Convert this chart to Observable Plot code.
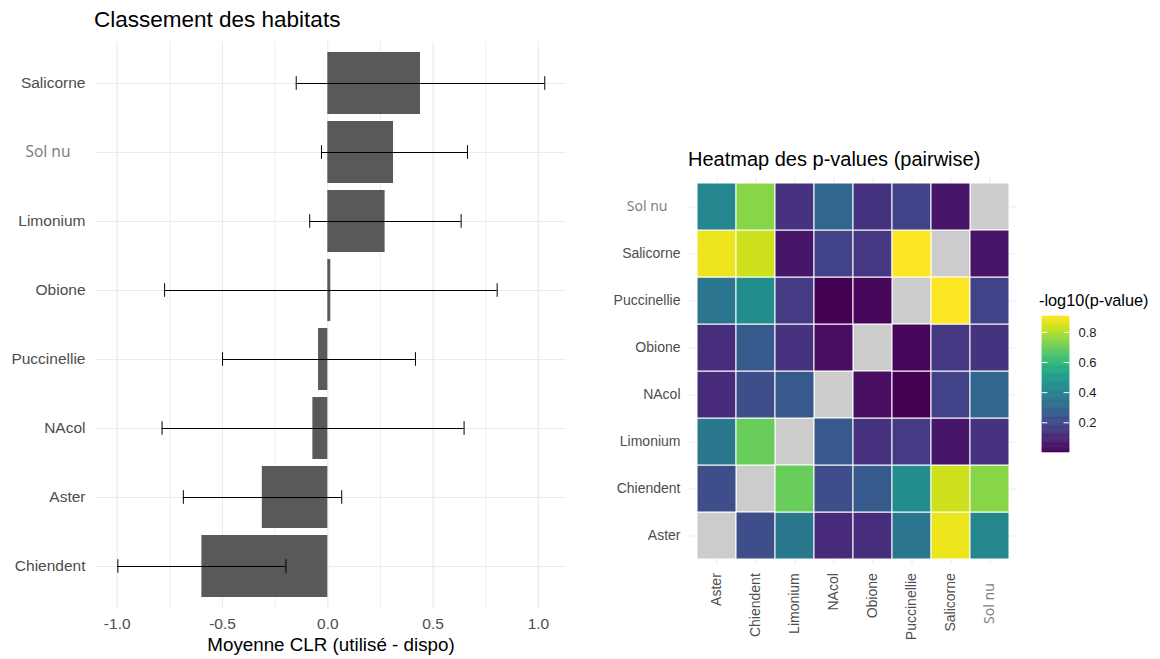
<!DOCTYPE html>
<html>
<head>
<meta charset="utf-8">
<script src="https://cdn.jsdelivr.net/npm/d3@7"></script>
<script src="https://cdn.jsdelivr.net/npm/@observablehq/plot@0.6"></script>
<style>
  body { margin: 0; background: #fff; }
  #fig { position: relative; width: 1160px; height: 659px; overflow: hidden;
         font-family: "Liberation Sans", Arial, sans-serif; }
  .panel { position: absolute; }
  .t { position: absolute; white-space: nowrap; line-height: 1; color: #000; }
</style>
</head>
<body>
<div id="fig">
  <div class="t" style="left:94px; top:9px; font-size:22.5px;">Classement des habitats</div>
  <div class="t" style="left:331px; top:636px; font-size:18.8px; transform:translateX(-50%);">Moyenne CLR (utilisé - dispo)</div>
  <div class="t" style="left:688px; top:149px; font-size:20px;">Heatmap des p-values (pairwise)</div>
  <div class="t" style="left:1039px; top:292px; font-size:16.3px;">-log10(p-value)</div>
  <div class="panel" id="clr" style="left:0; top:0;"></div>
  <div class="panel" id="heat" style="left:590px; top:170px;"></div>
  <div class="panel" id="legend" style="left:1030px; top:300px;"></div>
</div>
<script>
// Mean CLR (used - available) per habitat, with the interval bounds
const habitats = ["Salicorne", "Sol nu", "Limonium", "Obione", "Puccinellie", "NAcol", "Aster", "Chiendent"];
const clrMean  = [0.440, 0.312, 0.272, 0.014, -0.044, -0.071, -0.311, -0.598];
const clrLow   = [-0.150, -0.030, -0.086, -0.775, -0.500, -0.787, -0.686, -0.997];
const clrHigh  = [1.030, 0.663, 0.633, 0.804, 0.416, 0.647, 0.066, -0.199];
const majorTicks = [-1, -0.5, 0, 0.5, 1];
const minorTicks = [-0.75, -0.25, 0.25, 0.75];

// Pairwise comparisons, -log10(p-value)
const heatHabitats = ["Aster", "Chiendent", "Limonium", "NAcol", "Obione", "Puccinellie", "Salicorne", "Sol nu"];
const pairA = ["Aster","Aster","Aster","Aster","Aster","Aster","Aster",
               "Chiendent","Chiendent","Chiendent","Chiendent","Chiendent","Chiendent",
               "Limonium","Limonium","Limonium","Limonium","Limonium",
               "NAcol","NAcol","NAcol","NAcol",
               "Obione","Obione","Obione",
               "Puccinellie","Puccinellie",
               "Salicorne"];
const pairB = ["Chiendent","Limonium","NAcol","Obione","Puccinellie","Salicorne","Sol nu",
               "Limonium","NAcol","Obione","Puccinellie","Salicorne","Sol nu",
               "NAcol","Obione","Puccinellie","Salicorne","Sol nu",
               "Obione","Puccinellie","Salicorne","Sol nu",
               "Puccinellie","Salicorne","Sol nu",
               "Salicorne","Sol nu",
               "Sol nu"];
const negLogP = [0.215, 0.365, 0.110, 0.120, 0.355, 0.880, 0.420,
                 0.700, 0.215, 0.255, 0.445, 0.835, 0.745,
                 0.250, 0.130, 0.160, 0.055, 0.130,
                 0.035, 0.003, 0.180, 0.300,
                 0.020, 0.145, 0.135,
                 0.905, 0.180,
                 0.055];
const legendTicks = [0.2, 0.4, 0.6, 0.8];

const font = "Liberation Sans, Arial, sans-serif";

// ---- Bar chart with error bars ----
const clr = habitats.map((h, i) => ({habitat: h, mean: clrMean[i], lo: clrLow[i], hi: clrHigh[i]}));
const xmin = Math.min(0, d3.min(clrLow)), xmax = Math.max(0, d3.max(clrHigh));
const xpad = (xmax - xmin) * 0.05;

const clrPlot = Plot.plot({
  width: 580, height: 659,
  marginLeft: 96, marginRight: 14.4, marginTop: 41.4, marginBottom: 50.4,
  style: {fontFamily: font, background: "transparent", overflow: "visible"},
  x: {domain: [xmin - xpad, xmax + xpad]},
  y: {domain: habitats, paddingInner: 0.1, paddingOuter: 0.15},
  marks: [
    Plot.gridX(minorTicks, {stroke: "#EBEBEB", strokeOpacity: 1, strokeWidth: 0.8}),
    Plot.gridX(majorTicks, {stroke: "#EBEBEB", strokeOpacity: 1, strokeWidth: 1.2}),
    Plot.gridY(habitats, {stroke: "#EBEBEB", strokeOpacity: 1, strokeWidth: 1.2}),
    Plot.barX(clr, {x: "mean", y: "habitat", fill: "#595959"}),
    Plot.ruleY(clr, {y: "habitat", x1: "lo", x2: "hi", stroke: "#000", strokeWidth: 1}),
    Plot.tickX(clr, {x: "lo", y: "habitat", stroke: "#000", strokeWidth: 1, insetTop: 24.2, insetBottom: 24.2}),
    Plot.tickX(clr, {x: "hi", y: "habitat", stroke: "#000", strokeWidth: 1, insetTop: 24.2, insetBottom: 24.2}),
    Plot.axisX(majorTicks, {tickSize: 0, tickPadding: 8.7, tickFormat: d => d.toFixed(1),
                            fontSize: 15.5, color: "#4D4D4D", label: null}),
    Plot.axisY({tickSize: 0, tickPadding: 11, fontSize: 15.5, color: "#4D4D4D", label: null})
  ]
});
document.getElementById("clr").append(clrPlot);

// ---- Heatmap ----
const heatRows = heatHabitats.slice().reverse();
const heatCells = [];
negLogP.forEach((v, i) => {
  heatCells.push({col: pairA[i], row: pairB[i], v});
  heatCells.push({col: pairB[i], row: pairA[i], v});
});
const diagonal = heatHabitats.map(h => ({col: h, row: h}));
const [vmin, vmax] = d3.extent(negLogP);

const heatPlot = Plot.plot({
  width: 440, height: 489,
  marginLeft: 98.7, marginRight: 13.7, marginTop: 7, marginBottom: 95,
  style: {fontFamily: font, background: "transparent", overflow: "visible"},
  x: {domain: heatHabitats, paddingInner: 0, paddingOuter: 0.1},
  y: {domain: heatRows, paddingInner: 0, paddingOuter: 0.1},
  color: {type: "linear", scheme: "viridis", domain: [vmin, vmax]},
  marks: [
    Plot.gridX(heatHabitats, {stroke: "#EBEBEB", strokeOpacity: 1, strokeWidth: 1}),
    Plot.gridY(heatRows, {stroke: "#EBEBEB", strokeOpacity: 1, strokeWidth: 1}),
    Plot.cell(diagonal, {x: "col", y: "row", fill: "#CCCCCC", stroke: "white", strokeWidth: 1, inset: 0}),
    Plot.cell(heatCells, {x: "col", y: "row", fill: "v", stroke: "white", strokeWidth: 1, inset: 0}),
    Plot.axisX({tickSize: 0, tickPadding: 8.7, tickRotate: -90, fontSize: 14, color: "#4D4D4D", label: null}),
    Plot.axisY({tickSize: 0, tickPadding: 8.7, fontSize: 14, color: "#4D4D4D", label: null})
  ]
});
document.getElementById("heat").append(heatPlot);

// ---- Colour bar ----
const barSteps = d3.range(120).map(i => {
  const a = vmin + (vmax - vmin) * i / 120, b = vmin + (vmax - vmin) * (i + 1) / 120;
  return {y1: a, y2: b, mid: (a + b) / 2};
});
const legendPlot = Plot.plot({
  width: 110, height: 170,
  marginLeft: 12, marginRight: 71, marginTop: 16, marginBottom: 18,
  style: {fontFamily: font, background: "transparent", overflow: "visible"},
  x: {domain: [0, 1], axis: null},
  y: {domain: [vmin, vmax]},
  color: {type: "linear", scheme: "viridis", domain: [vmin, vmax]},
  marks: [
    Plot.rect(barSteps, {x1: 0, x2: 1, y1: "y1", y2: "y2", fill: "mid", stroke: "mid", strokeWidth: 0.6, inset: 0}),
    Plot.ruleY(legendTicks, {x1: 0, x2: 0.2, stroke: "white", strokeWidth: 1}),
    Plot.ruleY(legendTicks, {x1: 0.8, x2: 1, stroke: "white", strokeWidth: 1}),
    Plot.axisY(legendTicks, {anchor: "right", tickSize: 0, tickPadding: 9, fontSize: 13,
                             tickFormat: d => d.toFixed(1), color: "#1A1A1A", label: null})
  ]
});
document.getElementById("legend").append(legendPlot);

// "Sol nu" labels use a different face and sit slightly off the others
function styleSolNu(svg, dx) {
  svg.querySelectorAll("text").forEach(t => {
    if (t.textContent === "Sol nu") {
      t.setAttribute("font-family", "Noto Sans, sans-serif");
      t.style.fontFamily = "Noto Sans, sans-serif";
      t.setAttribute("fill", "#7F7F7F");
      t.setAttribute("dx", dx);
    }
  });
}
styleSolNu(clrPlot, -15);
heatPlot.querySelectorAll("g[aria-label='y-axis tick label'] text").forEach(t => {
  if (t.textContent === "Sol nu") {
    t.style.fontFamily = "Noto Sans, sans-serif";
    t.setAttribute("fill", "#7F7F7F");
    t.setAttribute("dx", -13);
  }
});
heatPlot.querySelectorAll("g[aria-label='x-axis tick label'] text").forEach(t => {
  if (t.textContent === "Sol nu") {
    t.style.fontFamily = "Noto Sans, sans-serif";
    t.setAttribute("fill", "#7F7F7F");
    t.setAttribute("dx", -10);
  }
});
</script>
</body>
</html>
